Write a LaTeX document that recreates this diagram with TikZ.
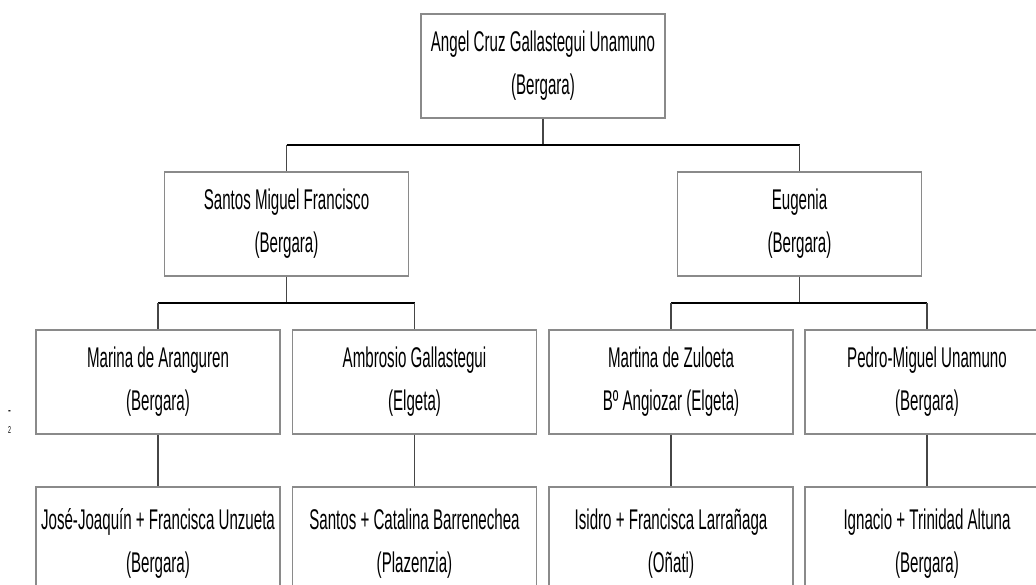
\documentclass[tikz,border=0pt]{standalone}
\usepackage{fontspec}
\setmainfont{Liberation Sans}[FakeStretch=0.53]
\definecolor{boxgray}{RGB}{138,138,138}
\definecolor{linkgray}{RGB}{70,70,70}
\begin{document}
\begin{tikzpicture}[x=1pt,y=-1pt,line join=miter,
  person/.style={draw=boxgray,line width=1.8pt,fill=white,minimum width=244pt,minimum height=104pt,
    inner sep=0pt,align=center,font=\fontsize{28.5}{43}\selectfont},
  couple/.style={person,minimum height=113pt},
  link/.style={draw=linkgray,line width=1.3pt},
  bar/.style={draw=black,line width=2.8pt}]
\def \W{1036}\def \H{584}
\useasboundingbox (0,0) rectangle (\W,\H);
\clip (0,0) rectangle (\W,\H);
% generation 1 and 2
\node[person] (angel) at (543,66) {Angel Cruz Gallastegui Unamuno\\(Bergara)};
\node[person] (santos) at (286.5,224) {Santos Miguel Francisco\\(Bergara)};
\node[person] (eugenia) at (799.5,224) {Eugenia\\(Bergara)};
% generation 3
\node[person] (marina) at (158,382) {Marina de Aranguren\\(Bergara)};
\node[person] (ambrosio) at (414.5,382) {Ambrosio Gallastegui\\(Elgeta)};
\node[person] (martina) at (671,382) {Martina de Zuloeta\\Bº Angiozar (Elgeta)};
\node[person] (pedro) at (927,382) {Pedro-Miguel Unamuno\\(Bergara)};
% generation 4
\node[couple] (josejoaquin) at (158,543.5) {José-Joaquín + Francisca Unzueta\\(Bergara)};
\node[couple] (santoscat) at (414.5,543.5) {Santos + Catalina Barrenechea\\(Plazenzia)};
\node[couple] (isidro) at (671,543.5) {Isidro + Francisca Larrañaga\\(Oñati)};
\node[couple] (ignacio) at (927,543.5) {Ignacio + Trinidad Altuna\\(Bergara)};
% connectors
\coordinate (jA) at (543,145);
\coordinate (jS) at (286.5,303);
\coordinate (jE) at (799.5,303);
\draw[link] (angel) -- (jA);
\draw[bar] (jA -| santos) -- (jA -| eugenia);
\draw[link] (jA -| santos) -- (santos);
\draw[link] (jA -| eugenia) -- (eugenia);
\draw[link] (santos) -- (jS);
\draw[bar] (jS -| marina) -- (jS -| ambrosio);
\draw[link] (jS -| marina) -- (marina);
\draw[link] (jS -| ambrosio) -- (ambrosio);
\draw[link] (eugenia) -- (jE);
\draw[bar] (jE -| martina) -- (jE -| pedro);
\draw[link] (jE -| martina) -- (martina);
\draw[link] (jE -| pedro) -- (pedro);
\draw[link] (marina) -- (josejoaquin);
\draw[link] (ambrosio) -- (santoscat);
\draw[link] (martina) -- (isidro);
\draw[link] (pedro) -- (ignacio);
% stray marks at the margin
\node[font=\fontsize{16}{16}\selectfont] (dash) at (9.5,413) {-};
\node[font=\fontsize{10}{10}\selectfont] (two) at (9.5,430) {2};
\end{tikzpicture}
\end{document}
